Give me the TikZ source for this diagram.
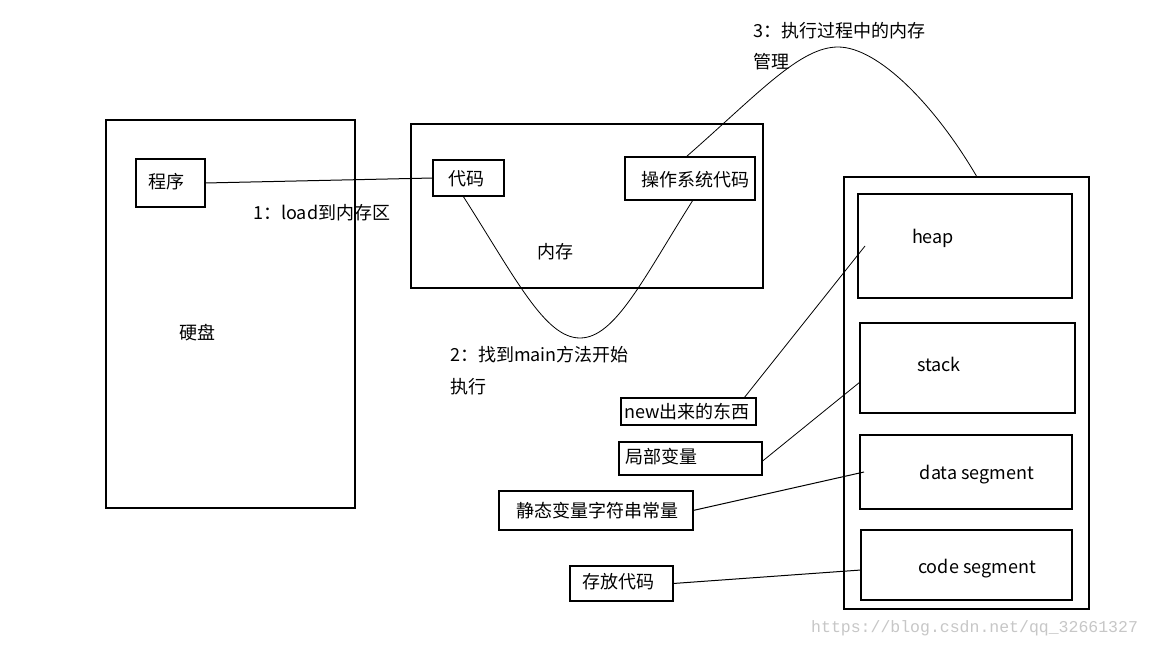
\documentclass[tikz,border=0pt]{standalone}
\usepackage{fontspec}
\newfontfamily\cjk{Noto Sans CJK SC}
\newfontfamily\wmfont{Liberation Mono}
\begin{document}
\begin{tikzpicture}[x=1pt,y=-1pt,
  box/.style={draw, line width=1.1pt, inner sep=0pt, outer sep=0pt, anchor=north west},
  txt/.style={font=\cjk\fontsize{18}{22}\selectfont, inner sep=0pt},
  thin/.style={line width=0.8pt},
  wire/.style={line width=1pt}]
\useasboundingbox[fill=white] (0,0) rectangle (1152,648);

% hard disk
\node[box, minimum width=249pt, minimum height=388pt] (disk) at (106,120) {};
\node[box, minimum width=69pt, minimum height=48pt] (prog) at (136,159) {};
\node[txt] (progt) at (166,182) {程序};
\node[txt] (diskt) at (197,333) {硬盘};
\node[txt, anchor=west] (l1) at (253,213) {1：load到内存区};

% memory
\node[box, minimum width=352pt, minimum height=164pt] (mem) at (411,124) {};
\node[box, minimum width=71pt, minimum height=36pt] (code) at (433,160) {};
\node[txt] (codet) at (466,179) {代码};
\node[box, minimum width=130pt, minimum height=43pt] (os) at (625,157) {};
\node[txt] (ost) at (695,180) {操作系统代码};
\node[txt] (memt) at (555,252) {内存};

\node[txt, anchor=west] (l2a) at (450,355) {2：找到main方法开始};
\node[txt, anchor=west] (l2b) at (450,387) {执行};
\node[txt, anchor=west] (l3a) at (753,31) {3：执行过程中的内存};
\node[txt, anchor=west] (l3b) at (753,62) {管理};

% memory layout
\node[box, minimum width=245pt, minimum height=432pt] (big) at (844,177) {};
\node[box, minimum width=214pt, minimum height=104pt] (heap) at (858,194) {};
\node[txt] (heapt) at (933,238) {heap};
\node[box, minimum width=215pt, minimum height=90pt] (stack) at (860,323) {};
\node[txt] (stackt) at (939,364) {stack};
\node[box, minimum width=212pt, minimum height=74pt] (data) at (860,435) {};
\node[txt] (datat) at (977,475) {data segment};
\node[box, minimum width=211pt, minimum height=70pt] (cseg) at (861,530) {};
\node[txt] (csegt) at (977,569) {code segment};

% labels
\node[box, minimum width=135pt, minimum height=27pt] (new) at (621,398) {};
\node[txt] (newt) at (687,412) {new出来的东西};
\node[box, minimum width=143pt, minimum height=33pt] (local) at (619,442) {};
\node[txt] (localt) at (661,457) {局部变量};
\node[box, minimum width=194pt, minimum height=39pt] (static) at (499,491) {};
\node[txt] (statict) at (597,511) {静态变量字符串常量};
\node[box, minimum width=103pt, minimum height=35pt] (store) at (570,566) {};
\node[txt] (storet) at (618,582) {存放代码};

% watermark
\node[font=\wmfont\fontsize{16.5}{18}\selectfont, text=black!22, inner sep=0pt, anchor=west] (wm) at (811,628) {https://blog.csdn.net/qq\_32661327};

% connectors
\draw[wire] (prog.east) -- (code.west);
\draw[thin] ([xshift=-5.5pt]code.south) .. controls (516,279) and (545,338) .. (580,338)
  .. controls (615,338) and (643,279) .. ([xshift=3pt]os.south);
\draw[thin] ([xshift=-4pt]os.north) .. controls (759,93) and (800,47) .. (838,47)
  .. controls (878,47) and (935,105) .. ([xshift=10.5pt]big.north);
\draw[thin] ([xshift=-12pt]new.north east) -- ([xshift=7pt]heap.west);
\draw[thin] ([yshift=-3pt]local.east) -- ([yshift=-14pt]stack.west);
\draw[wire] (static.east) -- ([xshift=4pt]data.west);
\draw[wire] (store.east) -- ([yshift=-5pt]cseg.west);
\end{tikzpicture}
\end{document}
